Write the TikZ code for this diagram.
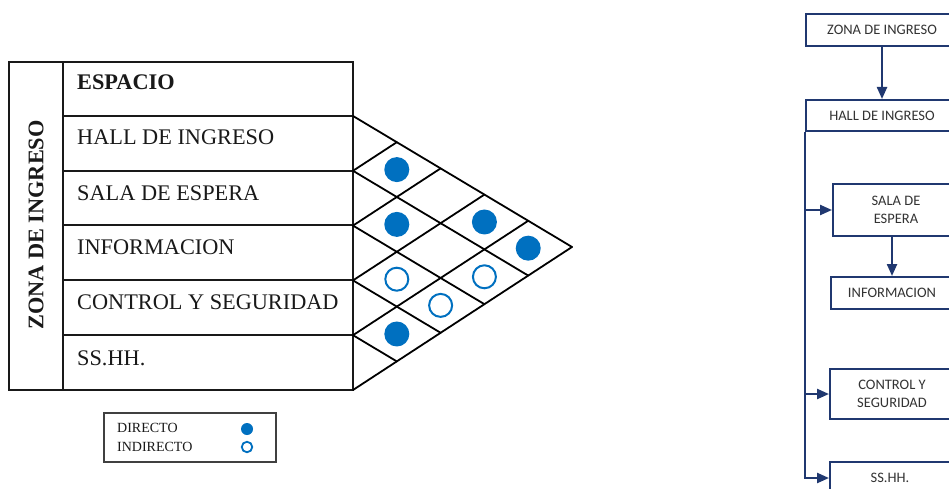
\documentclass[tikz,border=0pt]{standalone}
\usepackage{fontspec}
\setmainfont{Liberation Serif}
\newfontfamily\calib{Carlito}
\usetikzlibrary{arrows.meta}
\definecolor{dotblue}{RGB}{0,112,192}
\definecolor{navy}{RGB}{32,56,112}
\begin{document}
\begin{tikzpicture}[x=1pt,y=-1pt,
  tbl/.style={line width=1.6pt, draw=black!90},
  gridline/.style={line width=1.8pt, draw=black, line cap=round},
  lbl/.style={font=\fontsize{22.3}{24}\selectfont, inner sep=0pt, text=black!90},
  legtxt/.style={font=\fontsize{14}{16}\selectfont, inner sep=0pt, text=black!90},
  fulldot/.style={circle, fill=dotblue, minimum size=25pt, inner sep=0pt},
  opendot/.style={circle, draw=dotblue, line width=2pt, minimum size=23pt, inner sep=0pt},
  fbox/.style={draw=navy, line width=2pt, font=\calib\fontsize{14.5}{18}\selectfont, text=black!80, align=center, inner sep=0pt},
  farr/.style={draw=navy, line width=2.3pt, -{Triangle[length=12pt,width=10pt]}}
]
\useasboundingbox (0,0) rectangle (949,489);
\fill[white] (0,0) rectangle (949,489);
\clip (0,0) rectangle (949,489);

% ---- table ----
\draw[tbl] (9,62) rectangle (353,390);
\draw[tbl] (63,62) -- (63,390);
\foreach \y in {116,171,225,280,335} \draw[tbl] (63,\y) -- (353,\y);

\node[lbl, rotate=90] (zona) at (36,225) {\bfseries ZONA DE INGRESO};
\node[lbl, anchor=west] (espacio) at (77,82) {\bfseries ESPACIO};
\node[lbl, anchor=west] (hall) at (77,137) {HALL DE INGRESO};
\node[lbl, anchor=west] (sala) at (77,193) {SALA DE ESPERA};
\node[lbl, anchor=west] (info) at (77,247) {INFORMACION};
\node[lbl, anchor=west] (ctrl) at (77,302) {CONTROL Y SEGURIDAD};
\node[lbl, anchor=west] (sshh) at (77,358) {SS.HH.};

% ---- relationship matrix ----
\foreach \i in {0,...,4}
  \draw[gridline] (353,{116+54.8*\i}) -- ({353+43.805*(5-\i)},{116+54.8*\i+26.195*(5-\i)});
\foreach \j in {1,...,5}
  \draw[gridline] (353,{116+54.8*\j}) -- ({353+43.805*\j},{116+54.8*\j-28.605*\j});

\foreach \r/\s/\st in {1/2/fulldot,2/3/fulldot,4/5/fulldot,1/4/fulldot,1/5/fulldot,3/4/opendot,2/5/opendot,3/5/opendot}
  \node[\st] (d\r\s) at ({353+43.805*(\s-\r)},{116+54.8*(\r-0.5)+26.195*(\s-\r)}) {};

% ---- legend ----
\node[draw=black!75, line width=1.3pt, minimum width=172pt, minimum height=49pt, inner sep=0pt] (leg) at (190,437.5) {};
\node[legtxt, anchor=west] (ldir) at (117,428) {DIRECTO};
\node[legtxt, anchor=west] (lind) at (117,447) {INDIRECTO};
\node[circle, fill=dotblue, minimum size=12pt, inner sep=0pt] (lfull) at (247,429) {};
\node[circle, draw=dotblue, line width=1.8pt, minimum size=10.5pt, inner sep=0pt] (lopen) at (247,447) {};

% ---- flowchart ----
\node[fbox, minimum width=152pt, minimum height=32pt] (zona2) at (882,30) {ZONA DE INGRESO};
\node[fbox, minimum width=152pt, minimum height=31pt] (hall2) at (882,115.5) {HALL DE INGRESO};
\node[fbox, minimum width=126pt, minimum height=52pt] (sala2) at (896,210) {SALA DE\\ESPERA};
\node[fbox, minimum width=122pt, minimum height=32pt] (info2) at (892,293) {INFORMACION};
\node[fbox, minimum width=124pt, minimum height=50pt] (ctrl2) at (892,394) {CONTROL Y\\SEGURIDAD};
\node[fbox, minimum width=120pt, minimum height=32pt] (sshh2) at (890,478) {SS.HH.};

\draw[farr] (zona2) -- (hall2);
\draw[farr] (info2.north |- sala2.south) -- (info2.north);
\draw[farr] (hall2.south west) |- (sshh2.west);
\draw[farr] (hall2.south west |- sala2.west) -- (sala2.west);
\draw[farr] (hall2.south west |- ctrl2.west) -- (ctrl2.west);
\end{tikzpicture}
\end{document}
